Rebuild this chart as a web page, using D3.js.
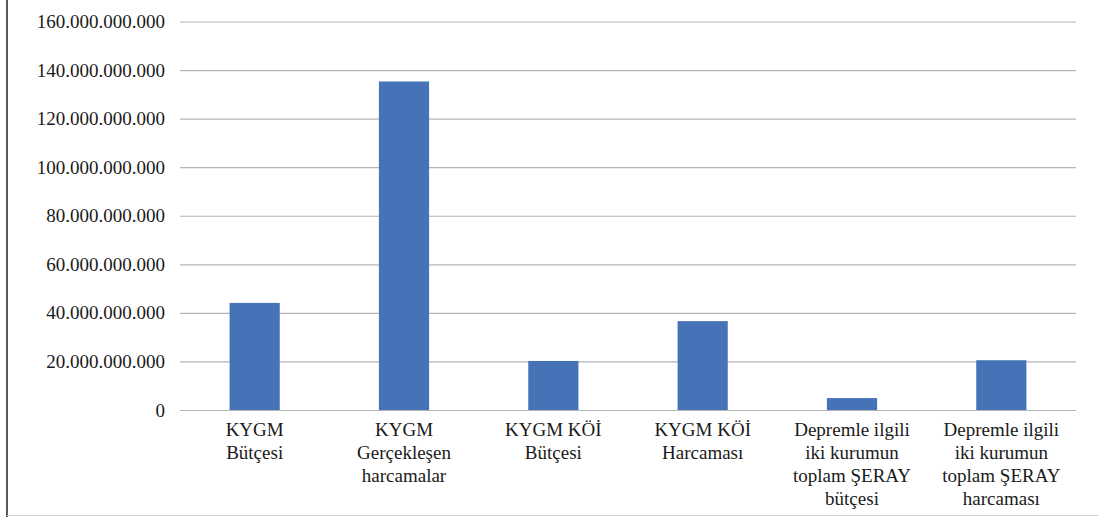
<!DOCTYPE html>
<html>
<head>
<meta charset="utf-8">
<script src="https://cdn.jsdelivr.net/npm/d3@7/dist/d3.min.js"></script>
<style>
  body { margin: 0; background: #fff; }
  svg text { font-family: "Liberation Serif", "Times New Roman", Tinos, "DejaVu Serif", "Noto Serif", Times, serif !important; fill: #1a1a1a; }
</style>
</head>
<body>
<svg id="chart"></svg>
<script>
'use strict';

// categories (line breaks as in the original axis labels)
var categories = [
  'KYGM\nBütçesi',
  'KYGM\nGerçekleşen\nharcamalar',
  'KYGM KÖİ\nBütçesi',
  'KYGM KÖİ\nHarcaması',
  'Depremle ilgili\niki kurumun\ntoplam ŞERAY\nbütçesi',
  'Depremle ilgili\niki kurumun\ntoplam ŞERAY\nharcaması'
]
var values = [44.1e9, 135.3e9, 20.2e9, 36.6e9, 4.9e9, 20.5e9]
var yTicks = [0, 20e9, 40e9, 60e9, 80e9, 100e9, 120e9, 140e9, 160e9]

var width = 1098,
  height = 517,
  margin = { left: 180, right: 22, top: 21.5, bottom: 107 },
  drawWidth = width - margin.left - margin.right,
  drawHeight = height - margin.top - margin.bottom

var trLocale = d3.formatLocale({ decimal: ',', thousands: '.', grouping: [3], currency: ['', ''] })
var fmt = trLocale.format(',.0f')

var svg = d3.select('#chart')
  .attr('width', width)
  .attr('height', height)

// chart frame
svg.append('line')
  .attr('x1', 7).attr('x2', 7).attr('y1', 0).attr('y2', height)
  .attr('stroke', '#222').attr('stroke-width', 1.5)
svg.append('line')
  .attr('x1', 7).attr('x2', width).attr('y1', height - 1.5).attr('y2', height - 1.5)
  .attr('stroke', '#cfcfcf').attr('stroke-width', 1)

var g = svg.append('g')
  .attr('transform', 'translate(' + margin.left + ',' + margin.top + ')')

var xScale = d3.scaleBand()
  .domain(categories)
  .range([0, drawWidth])
  .paddingInner(0.664)
  .paddingOuter(0.332)

var yScale = d3.scaleLinear()
  .domain([0, 160e9])
  .range([drawHeight, 0])

// gridlines + y labels
var yAxis = d3.axisLeft(yScale)
  .tickValues(yTicks)
  .tickFormat(fmt)
  .tickSize(-drawWidth)
  .tickPadding(15)

var yAxisG = g.append('g').call(yAxis)
  .attr('font-family', null)
yAxisG.select('.domain').remove()
yAxisG.selectAll('.tick line')
  .attr('stroke', '#b5b5b5')
  .attr('stroke-width', 1.2)
yAxisG.selectAll('.tick text')
  .attr('font-size', 19)
  .attr('fill', '#1a1a1a')

// bars
g.selectAll('rect.bar')
  .data(values)
  .enter().append('rect')
  .attr('class', 'bar')
  .attr('x', function(d, i) { return xScale(categories[i]) })
  .attr('width', xScale.bandwidth())
  .attr('y', function(d) { return yScale(d) })
  .attr('height', function(d) { return drawHeight - yScale(d) })
  .attr('fill', '#4672b7')

// x labels
var xLabels = g.selectAll('text.xlab')
  .data(categories)
  .enter().append('text')
  .attr('class', 'xlab')
  .attr('text-anchor', 'middle')
  .attr('font-size', 19)
  .attr('transform', function(d) {
    return 'translate(' + (xScale(d) + xScale.bandwidth() / 2) + ',' + (drawHeight + 26) + ')'
  })

xLabels.selectAll('tspan')
  .data(function(d) { return d.split('\n') })
  .enter().append('tspan')
  .attr('x', 0)
  .attr('y', function(d, i) { return i * 23 })
  .text(function(d) { return d })
</script>
</body>
</html>
